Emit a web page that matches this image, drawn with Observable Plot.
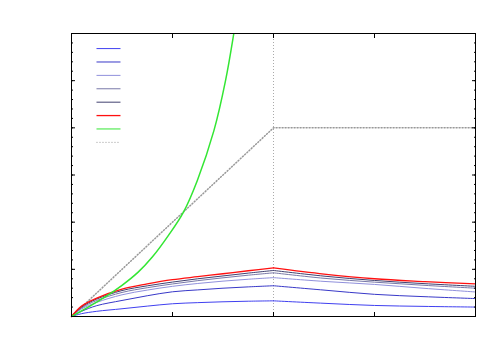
<!DOCTYPE html>
<html><head><meta charset="utf-8">
<script src="https://cdn.jsdelivr.net/npm/d3@7"></script>
<script src="https://cdn.jsdelivr.net/npm/@observablehq/plot@0.6"></script>
<style>body{margin:0;background:#fff}#chart{width:500px;height:350px}</style>
</head><body><div id="chart"></div>
<script>
// ---- data ----
const xValues = [0, 0.1, 0.25, 0.5, 0.75, 1, 1.25, 1.5, 1.75, 2, 2.5, 3, 3.5, 4];
const series1 = [0, 0.3, 0.55, 0.82, 1.1, 1.35, 1.47, 1.56, 1.62, 1.66, 1.4, 1.17, 1.07, 1.0];
const series2 = [0, 0.55, 1.15, 1.7, 2.2, 2.62, 2.82, 3.0, 3.14, 3.26, 2.8, 2.35, 2.1, 1.9];
const series3 = [0, 0.8, 1.5, 2.3, 2.8, 3.2, 3.5, 3.75, 3.95, 4.12, 3.72, 3.4, 2.98, 2.6];
const series4 = [0, 0.9, 1.7, 2.55, 3.05, 3.45, 3.8, 4.1, 4.38, 4.63, 4.05, 3.64, 3.3, 3.0];
const series5 = [0, 1.0, 1.85, 2.75, 3.25, 3.65, 4.0, 4.3, 4.6, 4.88, 4.28, 3.82, 3.48, 3.2];
const series6 = [0, 1.1, 1.95, 2.9, 3.45, 3.9, 4.22, 4.53, 4.85, 5.15, 4.5, 4.0, 3.7, 3.45];
const seriesColors = ["#4040f0", "#3838c8", "#9090dc", "#7878a8", "#404070", "#ff1010"];
const greenX = [0, 0.165, 0.33, 0.5, 0.66, 0.8, 0.96, 1.11, 1.245, 1.41, 1.525, 1.607, 1.65];
const greenY = [0, 1.0, 2.05, 3.3, 4.7, 6.3, 8.6, 11.1, 14.4, 19.7, 25, 30, 33];
const greenColor = "#33e633";
const refX = [0, 2, 4];
const refY = [0, 20, 20];
const refVertical = [2];
const xTicks = [0, 1, 2, 3, 4];
const yMinorTicks = d3.range(0, 31, 1);
const yMajorTicks = d3.range(0, 31, 5);
// legend rows (no text in reference)
const legendColors = [...seriesColors, greenColor, "#999"];
const legendDash = [null, null, null, null, null, null, null, "1,2"];

// ---- build ----
const allSeries = [series1, series2, series3, series4, series5, series6];
const marks = [];
// reference dotted lines
marks.push(Plot.ruleX(refVertical, {stroke: "#aaa", strokeDasharray: "1,2"}));
marks.push(Plot.line(refX.map((x, i) => ({x, y: refY[i]})), {x: "x", y: "y", stroke: "#999", strokeDasharray: "1,2"}));
// blue/red series: rising and falling parts
allSeries.forEach((vals, s) => {
  const rows = [];
  vals.forEach((v, i) => {
    const x = xValues[i];
    if (x <= 2) rows.push({x, y: v, seg: 0});
    if (x >= 2) rows.push({x, y: v, seg: 1});
  });
  marks.push(Plot.line(rows, {x: "x", y: "y", z: "seg", stroke: seriesColors[s], strokeWidth: s === 5 ? 1.3 : 1, curve: "catmull-rom"}));
});
// green
marks.push(Plot.line(greenX.map((x, i) => ({x, y: greenY[i]})), {x: "x", y: "y", stroke: greenColor, curve: "catmull-rom", clip: true}));
// legend samples
const legendRows = legendColors.map((c, i) => ({i, y: 28.4 - i * 1.42}));
legendRows.forEach((r, i) => {
  marks.push(Plot.link([r], {x1: () => 0.2475, x2: () => 0.485, y1: "y", y2: "y", stroke: legendColors[i], strokeDasharray: legendDash[i], strokeWidth: i === 5 ? 1.3 : 1}));
});
// frame and inward ticks
marks.push(Plot.frame({stroke: "#000"}));
marks.push(Plot.axisX(xTicks, {anchor: "bottom", tickSize: -4, fill: "none", label: null}));
marks.push(Plot.axisX(xTicks, {anchor: "top", tickSize: -4, fill: "none", label: null}));
marks.push(Plot.axisY(yMinorTicks, {anchor: "left", tickSize: -2, fill: "none", label: null}));
marks.push(Plot.axisY(yMajorTicks, {anchor: "left", tickSize: -4, fill: "none", label: null}));
marks.push(Plot.axisY(yMinorTicks, {anchor: "right", tickSize: -2, fill: "none", label: null}));
marks.push(Plot.axisY(yMajorTicks, {anchor: "right", tickSize: -4, fill: "none", label: null}));

const chart = Plot.plot({
  width: 500,
  height: 350,
  marginLeft: 71,
  marginRight: 25,
  marginTop: 33,
  marginBottom: 34,
  x: {domain: [0, 4]},
  y: {domain: [0, 30]},
  style: {background: "#fff"},
  marks
});
document.getElementById("chart").append(chart);
</script>
</body></html>
